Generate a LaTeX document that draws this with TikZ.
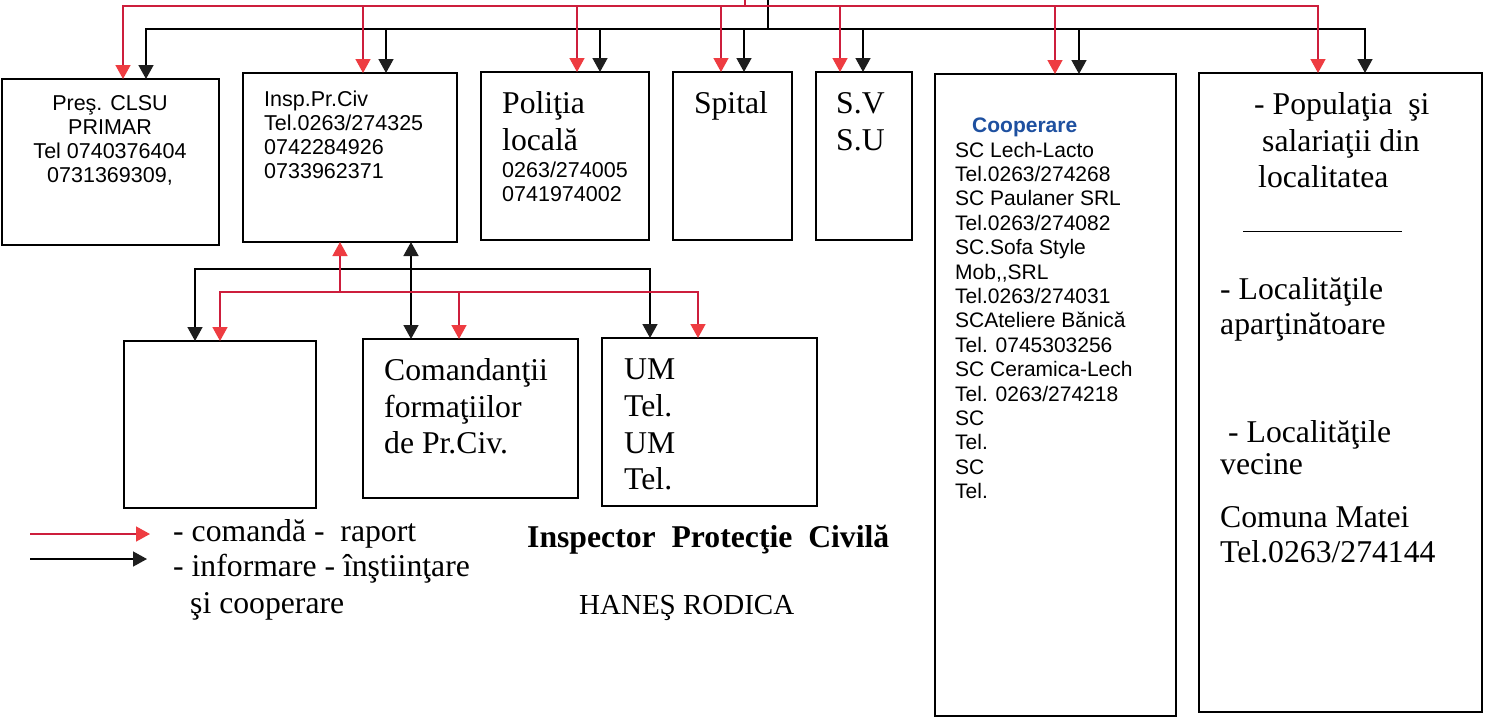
\documentclass[tikz,border=0pt]{standalone}
\usepackage{fontspec}
\setmainfont{Liberation Serif}
\newfontfamily\arial{Liberation Sans}
\usetikzlibrary{arrows.meta}
\definecolor{redline}{RGB}{205,30,60}
\definecolor{redhead}{RGB}{238,60,65}
\definecolor{blackhead}{RGB}{30,30,30}
\definecolor{coopblue}{RGB}{30,80,160}
\begin{document}
\begin{tikzpicture}[x=1pt,y=-1pt,
  bx/.style={draw=black, line width=1.5pt, inner sep=0pt, outer sep=0pt},
  tms/.style={font=\fontsize{31.7}{36}\selectfont, inner sep=0pt, anchor=base west},
  tmsc/.style={tms, anchor=base},
  ar/.style={font=\arial\fontsize{21.5}{24}\selectfont, inner sep=0pt, anchor=base west},
  arc/.style={ar, anchor=base},
  rline/.style={draw=redline, line width=1.5pt},
  bline/.style={draw=black, line width=1.5pt},
  rarr/.style={rline, -{Triangle[width=15pt,length=14pt,color=redhead]}},
  barr/.style={bline, -{Triangle[width=15pt,length=14pt,color=blackhead]}},
  bbarr/.style={bline, {Triangle[width=15pt,length=14pt,color=blackhead]}-{Triangle[width=15pt,length=14pt,color=blackhead]}},
]
\useasboundingbox (0,0) rectangle (1486,718);
\fill[white] (0,0) rectangle (1486,718);

% boxes
\node[bx, minimum width=217pt, minimum height=166pt] (pres) at (110.5,162) {};
\node[bx, minimum width=214pt, minimum height=169pt] (insp) at (350,157.5) {};
\node[bx, minimum width=168pt, minimum height=168pt] (pol) at (565,156) {};
\node[bx, minimum width=119pt, minimum height=168pt] (spital) at (732.5,156) {};
\node[bx, minimum width=96pt, minimum height=168pt] (svsu) at (864,156) {};
\node[bx, minimum width=241pt, minimum height=642pt] (coop) at (1055.5,395) {};
\node[bx, minimum width=283pt, minimum height=639pt] (popul) at (1340.5,392.5) {};
\node[bx, minimum width=192pt, minimum height=167pt] (blank) at (220,424.5) {};
\node[bx, minimum width=215pt, minimum height=159pt] (cmd) at (470.5,418.5) {};
\node[bx, minimum width=215pt, minimum height=168pt] (um) at (709.5,422) {};

% top buses
\coordinate (top) at (768,0);
\coordinate (bj) at (768,29);
\draw[bline] (top) -- (bj);
\coordinate (rtop) at (745,0);
\coordinate (rj) at (745,6);
\draw[rline] (rtop) -- (rj);
\coordinate (bL) at (146,29);
\coordinate (bR) at (1365,29);
\draw[bline, line cap=rect] (bL) -- (bR);
\coordinate (rL) at (123,6);
\coordinate (rR) at (1318,6);
\draw[rline, line cap=rect] (rL) -- (rR);
\foreach \n/\rx/\bx in {pres/123/146, insp/363/386, pol/577/600, spital/721/744, svsu/840/863, coop/1055/1079, popul/1318/1365}{
  \coordinate (b-\n) at (\bx,29);
  \draw[barr] (b-\n) -- (b-\n |- \n.north);
  \coordinate (r-\n) at (\rx,6);
  \draw[rarr] (r-\n) -- (r-\n |- \n.north);
}

% second row
\coordinate (b2L) at (195,269);
\coordinate (b2R) at (650,269);
\draw[bline, line cap=rect] (b2L) -- (b2R);
\foreach \n/\x in {blank/195, um/650}{
  \coordinate (b2-\n) at (\x,269);
  \draw[barr] (b2-\n) -- (b2-\n |- \n.north);
}
\coordinate (b2m) at (411,269);
\draw[bbarr] (b2m |- insp.south) -- (b2m |- cmd.north);
\coordinate (r2L) at (220,292);
\coordinate (r2R) at (698,292);
\draw[rline, line cap=rect] (r2L) -- (r2R);
\coordinate (r2up) at (340,292);
\draw[rarr] (r2up) -- (r2up |- insp.south);
\foreach \n/\x in {blank/220, cmd/459, um/698}{
  \coordinate (r2-\n) at (\x,292);
  \draw[rarr] (r2-\n) -- (r2-\n |- \n.north);
}

% texts: Pres
\node[arc] (p1) at (110,110) {Preş. CLSU};
\node[arc] (p2) at (110,134) {PRIMAR};
\node[arc] (p3) at (110,158) {Tel 0740376404};
\node[arc] (p4) at (110,182) {0731369309,};
% Insp
\node[ar] (i1) at (264,106) {Insp.Pr.Civ};
\node[ar] (i2) at (264,130) {Tel.0263/274325};
\node[ar] (i3) at (264,154) {0742284926};
\node[ar] (i4) at (264,178) {0733962371};
% Politia
\node[tms] (po1) at (502,113) {Poliţia};
\node[tms] (po2) at (502,150) {locală};
\node[ar] (po3) at (502,177) {0263/274005};
\node[ar] (po4) at (502,201) {0741974002};
% Spital, SV
\node[tmsc] (sp1) at (731,113) {Spital};
\node[tms] (sv1) at (836,113) {S.V};
\node[tms] (sv2) at (836,150) {S.U};
% Cooperare
\node[ar, font=\arial\bfseries\fontsize{21}{24}\selectfont, text=coopblue] (coT) at (972,132) {Cooperare};
\foreach \t [count=\i from 0] in {SC Lech-Lacto, Tel.0263/274268, SC Paulaner SRL, Tel.0263/274082, SC.Sofa Style, {Mob,,SRL}, Tel.0263/274031, SCAteliere Bănică, Tel. 0745303256, SC Ceramica-Lech, Tel. 0263/274218, SC, Tel., SC, Tel.}{
  \node[ar, font=\arial\fontsize{21}{24}\selectfont] (co\i) at (955,{157+24.4*\i}) {\t};
}
% Populatia
\node[tms] (pp1) at (1254,114) {- Populaţia\ \ şi};
\node[tms] (pp2) at (1262,151) {salariaţii din};
\node[tms] (pp3) at (1258,187) {localitatea};
\coordinate (sepL) at (1243,231);
\coordinate (sepR) at (1402,231);
\draw[black, line width=1pt] (sepL) -- (sepR);
\node[tms] (pp4) at (1220,299) {- Localităţile};
\node[tms] (pp5) at (1220,334) {aparţinătoare};
\node[tms] (pp6) at (1228,442) {- Localităţile};
\node[tms] (pp7) at (1220,474) {vecine};
\node[tms] (pp8) at (1220,527) {Comuna Matei};
\node[tms] (pp9) at (1220,562) {Tel.0263/274144};
% Comandantii
\node[tms] (cm1) at (384,380) {Comandanţii};
\node[tms] (cm2) at (384,417) {formaţiilor};
\node[tms] (cm3) at (384,453) {de Pr.Civ.};
% UM
\node[tms] (um1) at (624,379) {UM};
\node[tms] (um2) at (624,416) {Tel.};
\node[tms] (um3) at (624,453) {UM};
\node[tms] (um4) at (624,489) {Tel.};

% legend
\coordinate (lr1) at (30,534);
\coordinate (lr2) at (150,534);
\draw[rarr] (lr1) -- (lr2);
\coordinate (lb1) at (30,559);
\coordinate (lb2) at (147,559);
\draw[barr] (lb1) -- (lb2);
\node[tms] (lg1) at (173,541) {- comandă -\ \ raport};
\node[tms] (lg2) at (173,576) {- informare - înştiinţare};
\node[tms] (lg3) at (190,613) {şi cooperare};

% signature
\node[tms, font=\bfseries\fontsize{31.7}{36}\selectfont] (sig1) at (527,547) {Inspector\ \ Protecţie\ \ Civilă};
\node[tms, font=\fontsize{29}{34}\selectfont] (sig2) at (579,614) {HANEŞ RODICA};
\end{tikzpicture}
\end{document}
